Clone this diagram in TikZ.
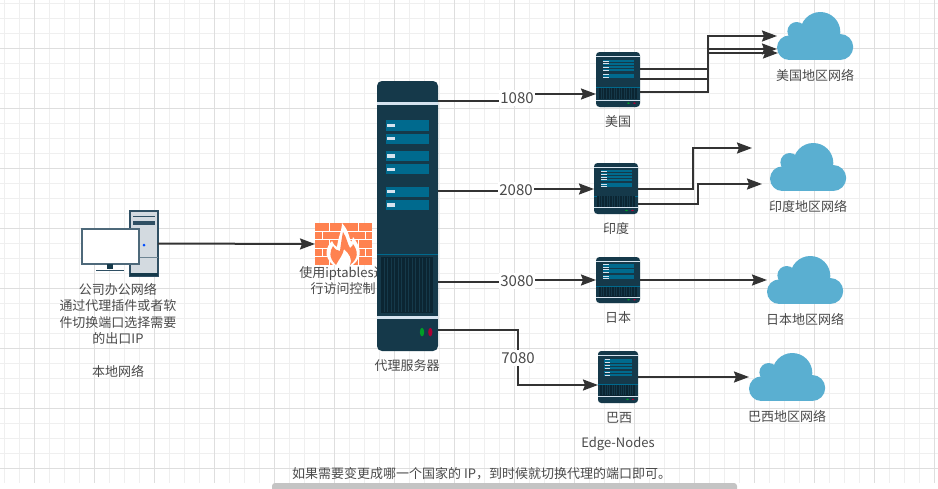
\documentclass[tikz,border=0pt]{standalone}
\usepackage{fontspec}
\setmainfont{Noto Sans CJK SC}
\usepackage{xcolor}
\definecolor{cBody}{HTML}{15394A}
\definecolor{cSlot}{HTML}{006A8E}
\definecolor{cBar}{HTML}{D5E3EF}
\definecolor{cVent}{HTML}{0B2532}
\definecolor{cLine}{HTML}{333333}
\definecolor{cText}{HTML}{4A4A4A}
\definecolor{cCloud}{HTML}{5AAFD1}
\definecolor{cFire}{HTML}{FF8250}
\definecolor{cCase}{HTML}{D3DAE0}
\definecolor{cEdge}{HTML}{2F4F63}
\definecolor{cGridA}{HTML}{EFEFEF}
\definecolor{cGridB}{HTML}{DEDEDE}
\definecolor{cScroll}{HTML}{C4C4C4}
\usetikzlibrary{positioning,arrows.meta,calc}
\tikzset{
  arrow/.style={-{Stealth[length=15pt,width=11pt,inset=2pt]},line width=2pt,draw=cLine},
  node-label/.style={font=\fontsize{13}{16.4}\selectfont,text=cText,align=center,inner sep=0pt},
  node-port/.style={node-label,font=\fontsize{15}{16.4}\selectfont,fill=white,inner xsep=1pt,inner ysep=2pt},
  node-server/.style={fill=cBody,inner sep=0pt,outer sep=0pt,anchor=north west},
  node-anchor/.style={inner sep=0pt,outer sep=0pt,anchor=north west},
  grid-minor/.style={draw=cGridA,line width=1pt},
  grid-major/.style={draw=cGridB,line width=1pt},
}
% one rack: name, left, top, width, height
\newcommand{\serverbox}[5]{
  \node[node-server,minimum width=#4pt,minimum height=#5pt,rounded corners={#4*0.08pt}] (#1) at (#2,#3) {};
  \begin{scope}[shift={(#1.north west)},x=#4pt,y=-#5pt]
    \fill[cBar] (0,.079) rectangle (1,.09);
    \fill[cBar] (0,.869) rectangle (1,.88);
    \fill[cSlot] (0,.64) rectangle (1,.645);
    \fill[cVent] (.06,.65) rectangle (.923,.86);
    \foreach \s in {1,...,14}
      \draw[cBody,line width={#4*0.012pt}] ({.06+\s*.0575},.655) -- ({.06+\s*.0575},.855);
    \foreach \a/\b in {.146/.185,.195/.233,.259/.296,.307/.346,.391/.43,.44/.479} {
      \fill[cSlot] (.148,\a) rectangle (.858,\b);
      \fill[cBar] (.164,{(\a+\b)/2-.006}) rectangle (.295,{(\a+\b)/2+.006});
    }
    \fill[green!55!black!85!cyan] (.738,.93) ellipse (.035 and .016);
    \fill[red!60!black!80!magenta] (.874,.93) ellipse (.035 and .016);
  \end{scope}
}
% one cloud: name, left, top
\newcommand{\cloudbox}[3]{
  \node[node-anchor,minimum width=76pt,minimum height=48pt] (#1) at (#2,#3) {};
  \begin{scope}[shift={(#1.north west)}]
    \fill[cCloud] (12.3,35.7) circle (12.3);
    \fill[cCloud] (19.7,19.3) circle (9.3);
    \fill[cCloud] (43.3,20) circle (20);
    \fill[cCloud] (63.2,35) circle (13);
    \fill[cCloud] (12.3,24) rectangle (63.2,48);
  \end{scope}
}
\begin{document}
\begin{tikzpicture}[x=1pt,y=-1pt]
  \useasboundingbox (0,0) rectangle (938,488);
  \fill[white] (0,0) rectangle (938,488);
  \foreach \x in {4,19,...,934} \draw[grid-minor] (\x,0) -- (\x,483);
  \foreach \y in {3,18,...,483} \draw[grid-minor] (0,\y) -- (938,\y);
  \foreach \x in {34,94,...,934} \draw[grid-major] (\x,0) -- (\x,483);
  \foreach \y in {48,108,...,468} \draw[grid-major] (0,\y) -- (938,\y);

  % computer
  \node[node-anchor,minimum width=28pt,minimum height=65pt,fill=cCase,draw=cEdge,line width=1.2pt] (pc) at (130,211) {};
  \begin{scope}[shift={(pc.north west)}]
    \fill[cEdge] (3,4.5) rectangle (25,6);
    \fill[cEdge] (3,10) rectangle (25,13.5);
    \fill[blue!70!cyan] (14,34) circle (1.5);
    \draw[cEdge!70,line width=.8pt] (0,46) -- (28,46);
    \fill[cBody] (0,62) rectangle (28,65);
  \end{scope}
  \node[node-anchor,minimum width=57pt,minimum height=35pt,fill=white,draw=cEdge!85,line width=1.2pt] (screen) at (82,229) {};
  \fill[cBody] (107,264) rectangle (113,269);
  \fill[cEdge] (96,269.5) rectangle (124,271);

  % firewall
  \node[node-anchor,minimum width=57pt,minimum height=42pt,fill=cFire] (fw) at (315,223) {};
  \begin{scope}[shift={(fw.north west)}]
    \foreach \y in {8,16.5,25,33.5}
      \draw[white,line width=1pt] (0,\y) -- (57,\y);
    \foreach \r/\x in {0/14,0/43,8.5/7,8.5/28.5,8.5/50,17/14,17/43,25.5/7,25.5/28.5,25.5/50,34/14,34/43}
      \draw[white,line width=1pt] (\x,\r) -- (\x,{\r+8.5});
    \fill[white] (18,42) .. controls (8,33) and (11,24) .. (17,18)
      .. controls (19,22) and (20,23) .. (22,24)
      .. controls (23,15) and (27,7) .. (27,0)
      .. controls (34,8) and (34,14) .. (36,19)
      .. controls (37,18) and (38,16) .. (38,14)
      .. controls (46,24) and (48,33) .. (38,42) -- cycle;
    \fill[cFire] (21,42) .. controls (13,34) and (15,28) .. (18,23)
      .. controls (20,26) and (22,28) .. (25,28)
      .. controls (26,20) and (27,14) .. (28,9)
      .. controls (32,15) and (32,20) .. (35,25)
      .. controls (37,24) and (38,22) .. (38,21)
      .. controls (43,28) and (44,35) .. (35,42)
      .. controls (38,37) and (34,30) .. (29,26)
      .. controls (28,32) and (24,36) .. (21,42) -- cycle;
  \end{scope}
  \node[node-label] (fwText) at (343,280.5) {使用iptables进\\行访问控制};

  % racks
  \serverbox{proxy}{377}{81}{61}{270}
  \serverbox{us}{596}{52}{44}{55}
  \serverbox{ind}{594}{163}{44}{51}
  \serverbox{jp}{596}{257}{44}{46}
  \serverbox{br}{598}{351}{40}{52}

  % clouds
  \cloudbox{usNet}{777}{12}
  \cloudbox{indNet}{770}{143}
  \cloudbox{jpNet}{767}{256}
  \cloudbox{brNet}{749}{353}

  % free ends and bends
  \coordinate (m1080) at (517,98);
  \coordinate (m2080) at (516,190);
  \coordinate (m3080) at (517,281);
  \coordinate (m7080) at (518,358);
  \coordinate (usBend) at (708,60);
  \coordinate (indBendA) at (693,170);
  \coordinate (indBendB) at (698,195);
  \coordinate (indTipA) at (752,148);

  \draw[arrow] (pc.east) -- (fw.west);
  \draw[arrow] (proxy.east |- 0,101) -| (m1080) |- (us.west |- 0,94);
  \draw[arrow] (proxy.east |- 0,191) -| (m2080) |- (ind.west |- 0,189);
  \draw[arrow] (proxy.east |- 0,282) -| (m3080) |- (jp.west |- 0,280);
  \draw[arrow] (proxy.east |- 0,330) -| (m7080) |- (br.west |- 0,385);
  \node[node-port] (l1080) at (m1080) {1080};
  \node[node-port] (l2080) at (m2080) {2080};
  \node[node-port] (l3080) at (m3080) {3080};
  \node[node-port] (l7080) at (m7080) {7080};

  \draw[arrow] (us.east |- 0,69) -| (usBend) |- (usNet.west |- 0,36);
  \draw[arrow] (us.east |- 0,79) -| (usBend) |- (usNet.west |- 0,49);
  \draw[arrow] (us.east |- 0,92) -| (usBend) |- ($(usNet.west |- 0,53)+(1,0)$);
  \draw[arrow] (ind.east |- 0,189) -| (indBendA) |- (indTipA);
  \draw[arrow] (ind.east |- 0,204) -| (indBendB) |- ($(indNet.west |- 0,184)+(-8,0)$);
  \draw[arrow] (jp.east |- 0,280) -- (jpNet.west |- 0,280);
  \draw[arrow] (br.east |- 0,377) -- (brNet.west |- 0,377);

  % labels
  \node[node-label] (pcText) at (118,330.5) {公司办公网络\\通过代理插件或者软\\件切换端口选择需要\\的出口IP\\ \\本地网络};
  \node[node-label] (proxyText) at (407,366) {代理服务器};
  \node[node-label] (usText) at (618,122) {美国};
  \node[node-label] (indText) at (616,229) {印度};
  \node[node-label] (jpText) at (618,318) {日本};
  \node[node-label] (brText) at (619,418) {巴西};
  \node[node-label] (edgeText) at (618,444) {Edge-Nodes};
  \node[node-label] (usNetText) at (815,75) {美国地区网络};
  \node[node-label] (indNetText) at (808,206) {印度地区网络};
  \node[node-label] (jpNetText) at (805,319) {日本地区网络};
  \node[node-label] (brNetText) at (787,416) {巴西地区网络};
  \node[node-label,anchor=west] (tipText) at (292,474) {如果需要变更成哪一个国家的 IP，到时候就切换代理的端口即可。};

  % scroll bar
  \fill[white] (0,483) rectangle (938,488);
  \fill[cScroll,rounded corners=3pt] (272,483) rectangle (737,495);
\end{tikzpicture}
\end{document}
